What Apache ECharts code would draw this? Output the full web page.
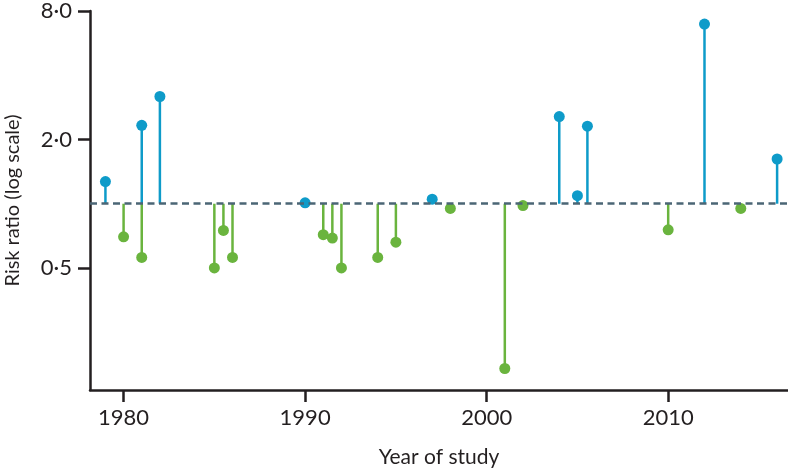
<!DOCTYPE html>
<html><head><meta charset="utf-8">
<script src="https://cdn.jsdelivr.net/npm/echarts@6/dist/echarts.min.js"></script>
<style>html,body{margin:0;padding:0;background:#fff}#c{width:788px;height:469px}</style>
</head><body><div id="c"></div>
<script>
// Studies with risk ratio above 1 (blue)
const higherYears = [1979, 1981, 1982, 1990, 1997, 2004, 2005, 2005.55, 2012, 2016];
const higherRR    = [1.27, 2.33, 3.18, 1.01, 1.05, 2.56, 1.09, 2.31, 6.95, 1.62];
// Studies with risk ratio below 1 (green)
const lowerYears = [1980, 1981, 1985, 1985.5, 1986, 1991, 1991.5, 1992, 1994, 1995, 1998, 2001, 2002, 2010, 2014];
const lowerRR    = [0.70, 0.56, 0.50, 0.75, 0.56, 0.716, 0.69, 0.50, 0.56, 0.66, 0.95, 0.169, 0.98, 0.755, 0.95];
const xTicks = [1980, 1990, 2000, 2010];
const yTicks = [0.5, 2, 8];
const baseline = 1;

const BLUE = '#0e9bc9', GREEN = '#6ab43e', DASH = '#4b6675', INK = '#231f20';
const FONT = 'Lato';

function pairs(xs, ys) { return xs.map((x, i) => [x, ys[i]]); }
function stem(color) {
  return function (params, api) {
    const p0 = api.coord([api.value(0), baseline]);
    const p1 = api.coord([api.value(0), api.value(1)]);
    return { type: 'line', shape: { x1: p0[0], y1: p0[1], x2: p1[0], y2: p1[1] },
      style: { stroke: color, lineWidth: 2.5 } };
  };
}

const chart = echarts.init(document.getElementById('c'), null, { renderer: 'canvas' });
chart.setOption({
  animation: false,
  grid: { left: 90, right: 0, top: 11, bottom: 79, containLabel: false, outerBoundsMode: 'none' },
  xAxis: {
    type: 'value', min: 1978.15, max: 2016.6,
    name: 'Year of study', nameLocation: 'middle', nameGap: 57,
    nameTextStyle: { fontFamily: FONT, fontSize: 21, color: INK },
    axisLine: { lineStyle: { color: INK, width: 2.5 } },
    axisTick: { show: true, length: 12, lineStyle: { color: INK, width: 2.5 }, customValues: xTicks },
    axisLabel: { fontFamily: FONT, fontSize: 22, color: INK, margin: 17, customValues: xTicks,
      formatter: v => String(Math.round(v)) },
    splitLine: { show: false }
  },
  yAxis: {
    type: 'log', logBase: 2, min: 0.134, max: 8,
    name: 'Risk ratio (log scale)', nameLocation: 'middle', nameGap: 67,
    nameTextStyle: { fontFamily: FONT, fontSize: 20, color: INK },
    axisLine: { show: true, lineStyle: { color: INK, width: 2.5 } },
    axisTick: { show: true, length: 12, lineStyle: { color: INK, width: 2.5 }, customValues: yTicks },
    axisLabel: { fontFamily: FONT, fontSize: 22, color: INK, margin: 18, customValues: yTicks,
      formatter: v => Number(v).toFixed(1).replace('.', '\u00b7') },
    splitLine: { show: false }
  },
  series: [
    { type: 'custom', renderItem: stem(BLUE), data: pairs(higherYears, higherRR), z: 2, silent: true },
    { type: 'custom', renderItem: stem(GREEN), data: pairs(lowerYears, lowerRR), z: 2, silent: true },
    { type: 'line', data: [], z: 3, silent: true,
      markLine: { symbol: 'none', silent: true, label: { show: false },
        lineStyle: { color: DASH, width: 2.5, type: [7, 4.5] }, data: [{ yAxis: baseline }] } },
    { type: 'scatter', data: pairs(higherYears, higherRR), symbolSize: 11, z: 4,
      itemStyle: { color: BLUE, opacity: 1 } },
    { type: 'scatter', data: pairs(lowerYears, lowerRR), symbolSize: 11, z: 4,
      itemStyle: { color: GREEN, opacity: 1 } }
  ]
});
</script></body></html>
